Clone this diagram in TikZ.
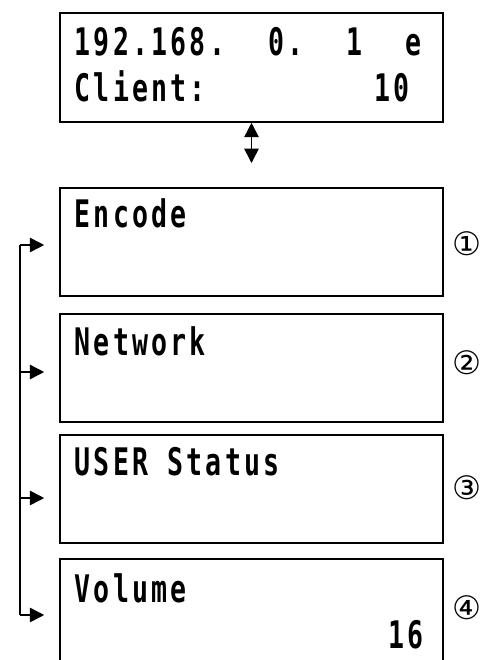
\documentclass[tikz,border=0pt]{standalone}
\usepackage{fontspec}
\usepackage{tikz}
\usetikzlibrary{positioning,arrows.meta}
\newfontfamily\lcdfont{DejaVu Sans Mono}[FakeStretch=0.7, LetterSpace=8.4]
\newfontfamily\numfont{DejaVu Sans}
\tikzset {
    style A/.style={
        draw=black,
        line width=1.1pt,
        rectangle, % Set the shape as a rectangle
        minimum width=9.575cm,
        minimum height=2.7cm,
        inner sep=0pt,
    },
    style B/.style={
        font=\lcdfont\bfseries\fontsize{27pt}{30pt}\selectfont,
        inner sep=0pt,
        anchor=base west,
    },
    style C/.style={
        font=\numfont\fontsize{23pt}{26pt}\selectfont,
        inner sep=0pt,
        anchor=west,
    },
}

\begin{document}
\begin{tikzpicture}
[line width=1.1pt, >={Triangle[length=0.36cm, width=0.36cm]}]
\useasboundingbox (0,0) rectangle (12.1,-16.5);
\clip (0,0) rectangle (12.1,-16.5);

% status screen
\node[style A, minimum height=2.725cm] at (6.2875,-1.6875) (lcd) {};
\node[style B] at (1.85,-1.375) (ipa) {192.168.};
\node[style B] at (6.7,-1.375) (ipb) {0.};
\node[style B] at (8.64,-1.375) (ipc) {1};
\node[style B] at (10.125,-1.375) (ipd) {e};
\node[style B] at (1.85,-2.525) (cli) {Client:};
\node[style B, anchor=base east] at (10.25,-2.525) (clin) {10};
\coordinate (swap) at (6.2875,-4.075);
\draw[<->] (lcd) -- (swap);

% menu screens
\node[style A] at (6.2875,-6.05) (enc) {};
\node[style B] at (1.85,-5.675) (encT) {Encode};
\node[style C] at (11.3,-6.09) (n1) {①};
\node[style A] at (6.2875,-9.2) (net) {};
\node[style B] at (1.85,-8.875) (netT) {Network};
\node[style C] at (11.3,-9.075) (n2) {②};
\node[style A] at (6.2875,-12.225) (usr) {};
\node[style B] at (1.85,-11.875) (usrT) {USER Status};
\node[style C] at (11.3,-12.2) (n3) {③};
\node[style A] at (6.2875,-15.325) (vol) {};
\node[style B] at (1.85,-15.05) (volT) {Volume};
\node[style B, anchor=base east] at (10.6,-16.2) (volN) {16};
\node[style C] at (11.3,-15.19) (n4) {④};

% loop on the left
\coordinate (b1) at (0.5,-6.125);
\coordinate (b2) at (0.5,-9.3);
\coordinate (b3) at (0.5,-12.45);
\coordinate (b4) at (0.5,-15.375);
\draw (b1) -- (b4);
\draw[->, shorten >=0.375cm] (b1) -- (b1 -| enc.west);
\draw[->, shorten >=0.375cm] (b2) -- (b2 -| net.west);
\draw[->, shorten >=0.375cm] (b3) -- (b3 -| usr.west);
\draw[->, shorten >=0.375cm] (b4) -- (b4 -| vol.west);
\end{tikzpicture}
\end{document}
